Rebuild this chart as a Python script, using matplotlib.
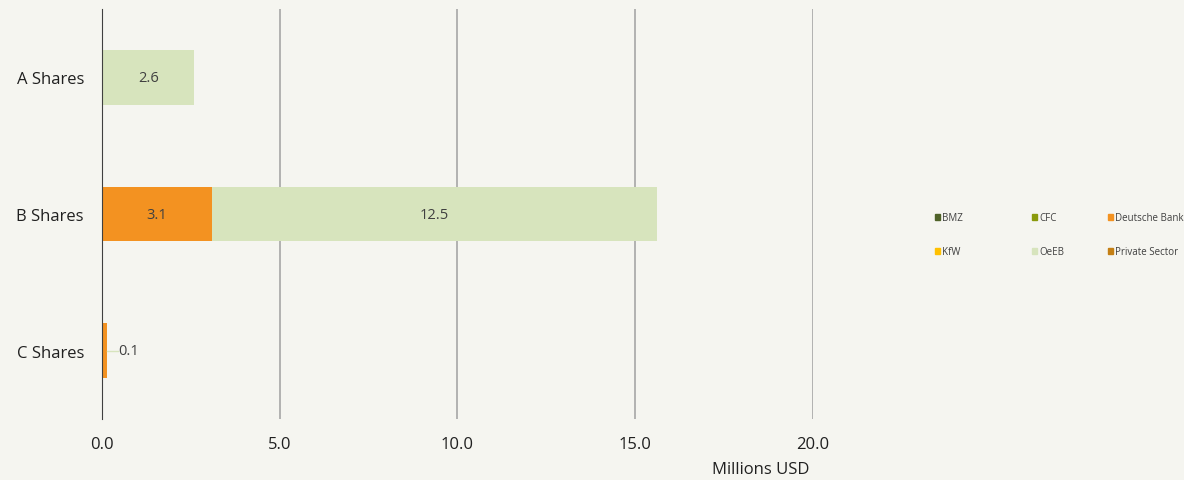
import numpy as np
import matplotlib.pyplot as plt
from matplotlib.patches import Patch

plt.rcParams['font.family'] = ['Open Sans', 'DejaVu Sans']

categories = ['A Shares', 'B Shares', 'C Shares']
series = ['BMZ', 'CFC', 'Deutsche Bank', 'KfW', 'OeEB', 'Private Sector']
colors = ['#4F6228', '#8A9A0B', '#F39221', '#FFC000', '#D7E4BD', '#C47F14']
values = {
    'BMZ': [0, 0, 0],
    'CFC': [0, 0, 0],
    'Deutsche Bank': [0, 3.1, 0.15],
    'KfW': [0, 0, 0],
    'OeEB': [2.6, 12.5, 0],
    'Private Sector': [0, 0, 0],
}
labels = {
    'Deutsche Bank': ['', '3.1', '0.1'],
    'OeEB': ['2.6', '12.5', ''],
}

bg = '#F5F5F0'
fig = plt.figure(figsize=(11.84, 4.81), dpi=100, facecolor=bg)
ax = fig.add_axes([0.0861, 0.1268, 0.6006, 0.852], facecolor=bg)

y = np.arange(len(categories))
left = np.zeros(len(categories))
for name, col in zip(series, colors):
    v = np.array(values[name])
    ax.barh(y, v, left=left, height=0.4, color=col, zorder=3)
    for i, lab in enumerate(labels.get(name, [''] * 3)):
        if not lab:
            continue
        if v[i] < 0.5:
            ax.plot([left[i] + v[i], left[i] + v[i] + 0.3], [y[i], y[i]],
                    color='#D7E4BD', lw=1, zorder=3)
            ax.text(left[i] + v[i] + 0.3, y[i], lab, ha='left', va='center',
                    fontsize=10.5, color='#404040')
        else:
            ax.text(left[i] + v[i] / 2, y[i], lab, ha='center', va='center',
                    fontsize=10.5, color='#404040', zorder=4)
    left += v

ax.set_xlim(0, 20)
ax.set_ylim(2.5, -0.5)
ax.set_yticks(y)
ax.set_yticklabels(categories, fontsize=12, color='#202020')
ax.set_xticks([0, 5, 10, 15, 20])
ax.set_xticklabels(['0.0', '5.0', '10.0', '15.0', '20.0'], fontsize=12, color='#202020')
ax.tick_params(length=0, pad=12)
ax.tick_params(axis='y', pad=13)
ax.grid(axis='x', color='#A6A6A6', lw=1.2, zorder=0)
for s in ['top', 'right', 'bottom']:
    ax.spines[s].set_visible(False)
ax.spines['left'].set_color('#404040')
ax.spines['left'].set_zorder(5)

fig.text(0.6832, 0.022, 'Millions USD', ha='right', va='center', fontsize=12, color='#202020')

xs = [0.788, 0.870, 0.934]
for c in range(3):
    hs = [Patch(color=colors[c], label=series[c]), Patch(color=colors[c + 3], label=series[c + 3])]
    fig.legend(handles=hs, loc='center left', bbox_to_anchor=(xs[c] - 0.006, 0.51),
               frameon=False, fontsize=7, handlelength=0.55, handleheight=0.55,
               handletextpad=0.25, labelspacing=2.4, labelcolor='#404040')

fig.savefig('out.png', dpi=100, facecolor=bg)
